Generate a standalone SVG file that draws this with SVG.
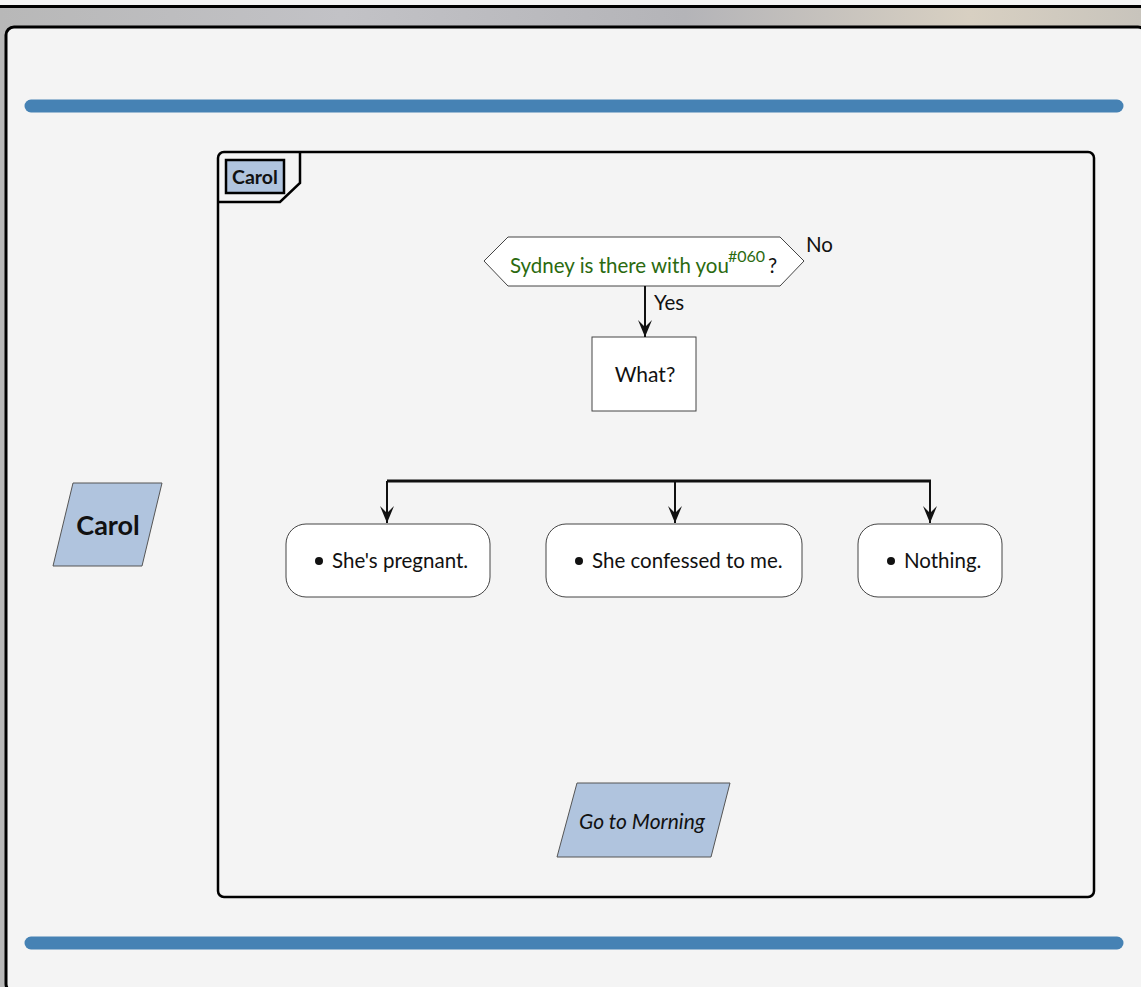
<svg xmlns="http://www.w3.org/2000/svg" width="1141" height="987" viewBox="0 0 1141 987">
<defs>
<linearGradient id="bg" x1="0" y1="0" x2="1" y2="0">
<stop offset="0" stop-color="#b8b8b8"/>
<stop offset="0.3" stop-color="#c2c2c6"/>
<stop offset="0.6" stop-color="#b4b4b8"/>
<stop offset="0.85" stop-color="#d8d0c2"/>
<stop offset="1" stop-color="#c8c4bc"/>
</linearGradient>
<marker id="arr" viewBox="0 0 17 14" refX="17" refY="7" markerWidth="17" markerHeight="14" markerUnits="userSpaceOnUse" orient="auto">
<path d="M0,0 L17,7 L0,14 L7,7 Z" fill="#111"/>
</marker>
<style>
text{font-family:Lato,"Open Sans","Liberation Sans",sans-serif;fill:#111}
.io{fill:#b0c4de;stroke:#555;stroke-width:1}
.act{fill:#fff;stroke:#444;stroke-width:1}
.lbl{font-size:20.5px}
.conn{stroke:#111;stroke-width:2;fill:none}
.bar{stroke:#4682b4;stroke-width:13;stroke-linecap:round}
</style>
</defs>
<rect x="0" y="0" width="1141" height="987" fill="url(#bg)"/>
<rect x="0" y="0" width="1141" height="5" fill="#f4f4f4"/>
<line x1="0" y1="6.5" x2="1141" y2="6.5" stroke="#000" stroke-width="3"/>
<rect x="6" y="27" width="1140" height="965" rx="8" fill="#f4f4f4" stroke="#000" stroke-width="3"/>
<line class="bar" x1="31" y1="106" x2="1117" y2="106"/>
<line class="bar" x1="31" y1="943" x2="1117" y2="943"/>

<g id="frame">
<rect x="218" y="152" width="876" height="745" rx="6" fill="none" stroke="#000" stroke-width="2.5"/>
<path d="M218,202 L280,202 L300,183 L300,152" fill="none" stroke="#000" stroke-width="2.5"/>
<rect x="226" y="160" width="58" height="33" fill="#b0c4de" stroke="#000" stroke-width="2.5"/>
<text x="255" y="184" font-size="19.5" font-weight="bold" text-anchor="middle">Carol</text>
</g>

<g id="carol-io">
<polygon class="io" points="73,483 162,483 142,566 53,566"/>
<text x="108" y="535" font-size="27" font-weight="bold" text-anchor="middle">Carol</text>
</g>

<g id="decision">
<polygon class="act" points="484,261 508,237 780,237 804,261 780,286 508,286"/>
<text x="510" y="273" class="lbl" style="fill:#2b6a0f">Sydney is there with you</text>
<text x="728" y="262" font-size="16" style="fill:#2b6a0f">#060</text>
<text x="768" y="273" class="lbl">?</text>
</g>
<text x="806" y="252" class="lbl">No</text>
<text x="654" y="310" class="lbl">Yes</text>

<g id="what">
<rect class="act" x="592" y="337" width="104" height="74"/>
<text x="645" y="382" font-size="21" text-anchor="middle">What?</text>
</g>

<g id="connectors">
<line class="conn" x1="645" y1="286" x2="645" y2="337" marker-end="url(#arr)"/>
<line x1="387" y1="481" x2="931" y2="481" stroke="#111" stroke-width="3"/>
<line class="conn" x1="387" y1="481" x2="387" y2="523" marker-end="url(#arr)"/>
<line class="conn" x1="675" y1="481" x2="675" y2="523" marker-end="url(#arr)"/>
<line class="conn" x1="930" y1="481" x2="930" y2="523" marker-end="url(#arr)"/>
</g>

<g id="opt1">
<rect class="act" x="286" y="524" width="204" height="73" rx="20"/>
<circle cx="319" cy="561" r="4" fill="#111"/>
<text x="332" y="568" class="lbl">She's pregnant.</text>
</g>
<g id="opt2">
<rect class="act" x="546" y="524" width="256" height="73" rx="20"/>
<circle cx="579" cy="561" r="4" fill="#111"/>
<text x="592" y="568" class="lbl">She confessed to me.</text>
</g>
<g id="opt3">
<rect class="act" x="858" y="524" width="144" height="73" rx="20"/>
<circle cx="891" cy="561" r="4" fill="#111"/>
<text x="904" y="568" class="lbl">Nothing.</text>
</g>

<g id="goto">
<polygon class="io" points="577,783 730,783 711,857 557,857"/>
<text x="642" y="829" font-size="21" font-style="italic" text-anchor="middle">Go to Morning</text>
</g>
</svg>
